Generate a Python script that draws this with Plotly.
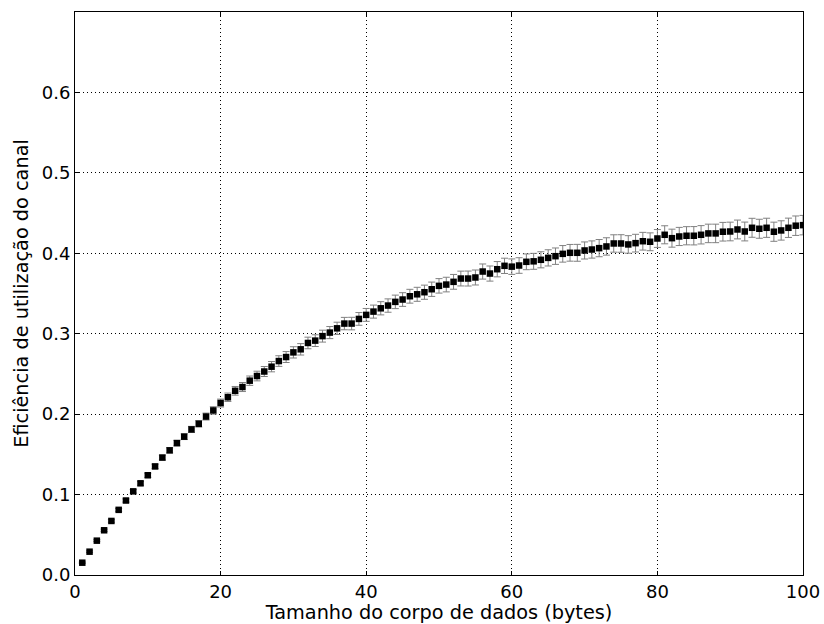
import plotly.graph_objects as go

x_bytes = list(range(1, 101))

efficiency = [
    0.0153, 0.0290, 0.0427, 0.0556, 0.0672, 0.0810, 0.0926, 0.1040, 0.1140, 0.1240,
    0.1350, 0.1460, 0.1550, 0.1640, 0.1720, 0.1810, 0.1880, 0.1970, 0.2046, 0.2138,
    0.2210, 0.2290, 0.2337, 0.2416, 0.2474, 0.2530, 0.2590, 0.2660, 0.2710, 0.2768,
    0.2806, 0.2885, 0.2914, 0.2970, 0.3014, 0.3067, 0.3126, 0.3126, 0.3184, 0.3234,
    0.3275, 0.3316, 0.3350, 0.3396, 0.3425, 0.3466, 0.3490, 0.3516, 0.3553, 0.3595,
    0.3611, 0.3645, 0.3686, 0.3686, 0.3699, 0.3773, 0.3748, 0.3802, 0.3844, 0.3834,
    0.3848, 0.3894, 0.3900, 0.3919, 0.3943, 0.3964, 0.3993, 0.4006, 0.4006, 0.4035,
    0.4047, 0.4064, 0.4085, 0.4122, 0.4122, 0.4110, 0.4126, 0.4150, 0.4143, 0.4184,
    0.4230, 0.4188, 0.4209, 0.4218, 0.4218, 0.4230, 0.4247, 0.4247, 0.4268, 0.4271,
    0.4296, 0.4271, 0.4317, 0.4305, 0.4317, 0.4268, 0.4284, 0.4317, 0.4343, 0.4350,
]

error_half = [
    0.0008, 0.0010, 0.0012, 0.0014, 0.0016, 0.0018, 0.0020, 0.0022, 0.0024, 0.0026,
    0.0028, 0.0030, 0.0032, 0.0034, 0.0036, 0.0038, 0.0040, 0.0043, 0.0046, 0.0049,
    0.0052, 0.0054, 0.0056, 0.0058, 0.0060, 0.0062, 0.0064, 0.0066, 0.0068, 0.0070,
    0.0071, 0.0072, 0.0073, 0.0074, 0.0075, 0.0076, 0.0077, 0.0078, 0.0079, 0.0080,
    0.0081, 0.0082, 0.0083, 0.0084, 0.0085, 0.0086, 0.0087, 0.0088, 0.0089, 0.0090,
    0.0091, 0.0092, 0.0092, 0.0093, 0.0093, 0.0094, 0.0094, 0.0095, 0.0095, 0.0096,
    0.0097, 0.0098, 0.0099, 0.0100, 0.0101, 0.0102, 0.0103, 0.0104, 0.0105, 0.0106,
    0.0107, 0.0107, 0.0108, 0.0108, 0.0109, 0.0109, 0.0110, 0.0110, 0.0111, 0.0111,
    0.0112, 0.0112, 0.0113, 0.0113, 0.0114, 0.0114, 0.0115, 0.0115, 0.0116, 0.0116,
    0.0117, 0.0117, 0.0118, 0.0118, 0.0119, 0.0119, 0.0120, 0.0120, 0.0121, 0.0121,
]

x_ticks = [0, 20, 40, 60, 80, 100]
y_ticks = [0.0, 0.1, 0.2, 0.3, 0.4, 0.5, 0.6]
x_title = "Tamanho do corpo de dados (bytes)"
y_title = "Eficiência de utilização do canal"

FONT = "DejaVu Sans"
FS = 18
FS_TITLE = 19.3

fig = go.Figure()
fig.add_trace(go.Scatter(
    x=x_bytes,
    y=efficiency,
    mode="markers",
    marker=dict(symbol="square", size=6.5, color="black", line=dict(width=0)),
    error_y=dict(type="data", array=error_half, visible=True,
                 color="#808080", thickness=1, width=3.5),
    showlegend=False,
))

axis_common = dict(
    showline=True, linecolor="black", linewidth=1, mirror="ticks",
    ticks="inside", ticklen=4, tickcolor="black", tickwidth=1,
    showgrid=True, gridcolor="black", gridwidth=1, griddash="1px,3px",
    zeroline=False, automargin=False,
    tickfont=dict(family=FONT, size=FS, color="black"),
)

fig.update_xaxes(range=[0, 100], tickvals=x_ticks, ticktext=[str(v) for v in x_ticks],
                 title=dict(text=x_title, font=dict(family=FONT, size=FS_TITLE, color="black"),
                            standoff=2),
                 **axis_common)
fig.update_yaxes(range=[0, 0.7], tickvals=y_ticks, ticktext=[f"{v:.1f}" for v in y_ticks],
                 title=dict(text=y_title, font=dict(family=FONT, size=FS_TITLE, color="black"),
                            standoff=8),
                 **axis_common)

fig.update_layout(
    width=824, height=624,
    margin=dict(l=75, r=21, t=12, b=49),
    paper_bgcolor="white", plot_bgcolor="white",
    font=dict(family=FONT, color="black"),
)

fig.write_html("out.html")
